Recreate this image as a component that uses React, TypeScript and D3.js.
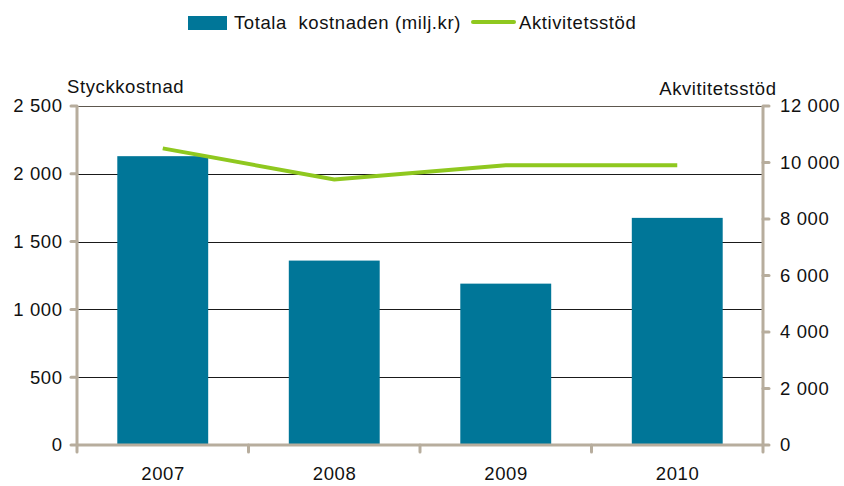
import React from "react";
import * as d3 from "d3";

const categories = ["2007", "2008", "2009", "2010"];
const totalCost = [2130, 1360, 1190, 1675];
const activitySupport = [10500, 9400, 9900, 9900];
const leftTicks = [0, 500, 1000, 1500, 2000, 2500];
const rightTicks = [0, 2000, 4000, 6000, 8000, 10000, 12000];
const legendLabels = ["Totala  kostnaden (milj.kr)", "Aktivitetsstöd"];
const leftTitle = "Styckkostnad";
const rightTitle = "Akvititetsstöd";

const W = 844;
const H = 486;
const FONT = "'Liberation Sans', Arial, Helvetica, sans-serif";
const BAR = "#007698";
const LINE = "#8fc81f";
const AXIS = "#b7ad9d";

const fmt = (v: number) => d3.format(",")(v).replace(/,/g, " ");

export default function App() {
  const left = 77, right = 763, top = 106, bottom = 445;
  const x = d3.scaleBand<string>().domain(categories).range([left, right]).paddingInner(0.47).paddingOuter(0.235);
  const yL = d3.scaleLinear().domain([0, 2500]).range([bottom, top]);
  const yR = d3.scaleLinear().domain([0, 12000]).range([bottom, top]);
  const step = x.step();
  const cx = (c: string) => (x(c) as number) + x.bandwidth() / 2;
  const line = d3.line<number>().x((_, i) => cx(categories[i])).y((d) => yR(d));
  const fs = 18.5;
  const ls = 0.6;
  const txt = { fontSize: fs, fill: "#111", letterSpacing: ls, style: { whiteSpace: "pre" as const } };

  return (
    <svg width={W} height={H} style={{ position: "absolute", left: 0, top: 0 }} fontFamily={FONT}>
      <rect width={W} height={H} fill="#fff" />
      {/* legend */}
      <rect x={188} y={16} width={39} height={14} fill={BAR} />
      <text x={234} y={29} {...txt}>{legendLabels[0]}</text>
      <line x1={473} x2={514} y1={22} y2={22} stroke={LINE} strokeWidth={4} strokeLinecap="round" />
      <text x={519} y={29} {...txt}>{legendLabels[1]}</text>

      {/* gridlines */}
      {leftTicks.filter((t) => t > 0).map((t) => (
        <line key={t} x1={left} x2={right} y1={Math.round(yL(t)) + 0.5} y2={Math.round(yL(t)) + 0.5}
          stroke={t === 2500 ? "#5d574e" : "#1a1a1a"} strokeWidth={1} />
      ))}

      {/* bars */}
      {totalCost.map((v, i) => (
        <rect key={i} x={x(categories[i])} y={yL(v)} width={x.bandwidth()} height={bottom - yL(v)} fill={BAR} />
      ))}

      {/* line */}
      <path d={line(activitySupport) || ""} fill="none" stroke={LINE} strokeWidth={4} strokeLinejoin="miter" />

      {/* axes */}
      <line x1={left} x2={left} y1={top} y2={bottom + 1} stroke={AXIS} strokeWidth={3} />
      <line x1={right} x2={right} y1={top} y2={bottom + 1} stroke={AXIS} strokeWidth={3} />
      <line x1={left} x2={right} y1={bottom} y2={bottom} stroke={AXIS} strokeWidth={3} />
      {leftTicks.map((t) => (
        <g key={t}>
          <line x1={left - 6} x2={left} y1={yL(t)} y2={yL(t)} stroke={AXIS} strokeWidth={3} strokeLinecap="round" />
          <text x={62 + ls} y={yL(t)} dy="0.35em" textAnchor="end" {...txt}>{fmt(t)}</text>
        </g>
      ))}
      {rightTicks.map((t) => (
        <g key={t}>
          <line x1={right} x2={right + 6} y1={yR(t)} y2={yR(t)} stroke={AXIS} strokeWidth={3} strokeLinecap="round" />
          <text x={780} y={yR(t)} dy="0.35em" textAnchor="start" {...txt}>{fmt(t)}</text>
        </g>
      ))}
      {d3.range(categories.length + 1).map((i) => (
        <line key={i} x1={left + step * i} x2={left + step * i} y1={bottom} y2={bottom + 7} stroke={AXIS} strokeWidth={3} strokeLinecap="round" />
      ))}
      {categories.map((c) => (
        <text key={c} x={cx(c) + ls / 2} y={480} textAnchor="middle" {...txt}>{c}</text>
      ))}

      <text x={67} y={93} {...txt}>{leftTitle}</text>
      <text x={776 + ls} y={95} textAnchor="end" {...txt}>{rightTitle}</text>
    </svg>
  );
}
